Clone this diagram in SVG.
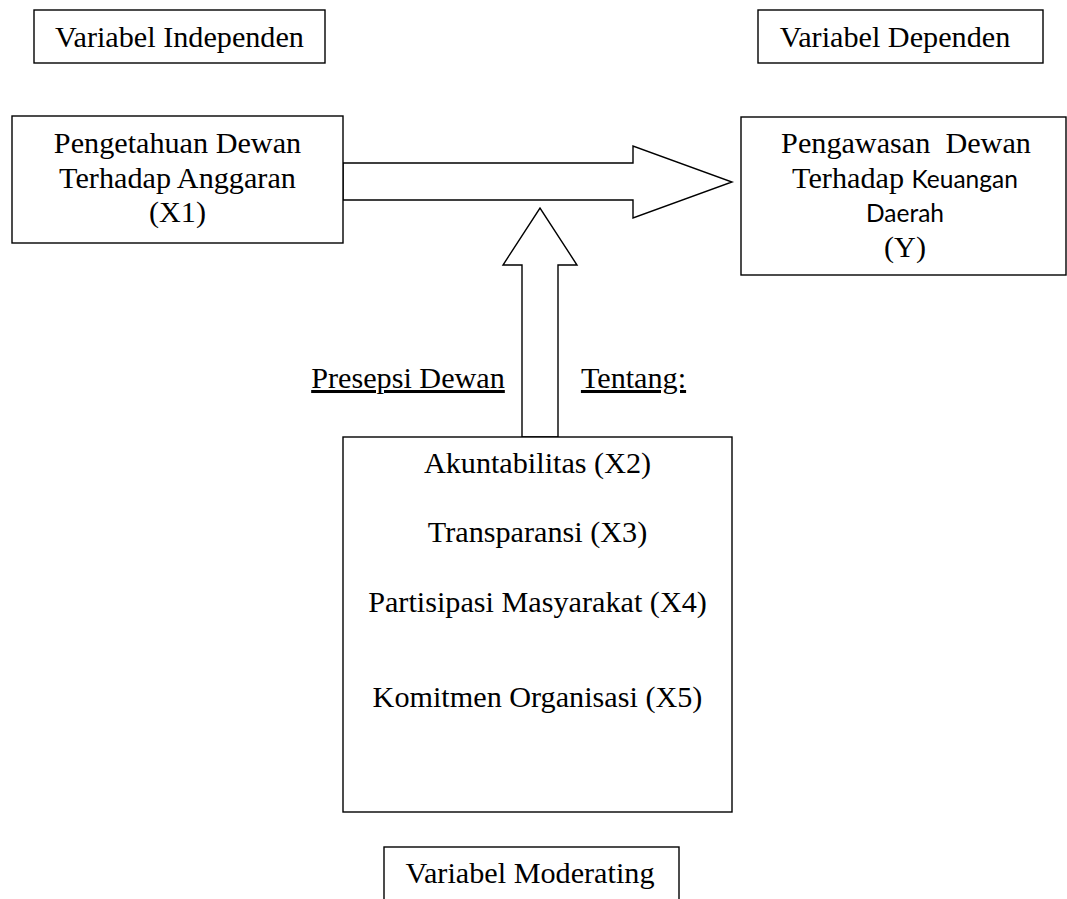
<svg xmlns="http://www.w3.org/2000/svg" width="1067" height="899" viewBox="0 0 1067 899">
<style>
.box{fill:#fff;stroke:#000;stroke-width:1.4}
.arr{fill:#fff;stroke:#000;stroke-width:1.4;stroke-linejoin:miter}
.t{font-family:"Liberation Serif","Times New Roman",serif;font-size:30.2px;fill:#000;text-anchor:middle}
.c{font-family:Lato,"Open Sans",sans-serif;font-size:24.5px}
.u{text-decoration:underline}
</style>
<rect width="1067" height="899" fill="#fff"/>
<g id="label-independen">
<rect class="box" x="34" y="10" width="291" height="53"/>
<text class="t" x="179.5" y="47">Variabel Independen</text>
</g>
<g id="label-dependen">
<rect class="box" x="758" y="10" width="285" height="53"/>
<text class="t" x="895" y="47">Variabel Dependen</text>
</g>
<g id="connectors">
<polygon class="arr" points="343,163 633,163 633,146 732,182 633,218 633,200 343,200"/>
<polygon class="arr" points="522,437 522,265 503,265 540,208 577,265 558,265 558,437"/>
</g>
<g id="x1">
<rect class="box" x="12" y="116" width="331" height="127"/>
<text class="t" x="177.5" y="153">Pengetahuan Dewan</text>
<text class="t" x="177.5" y="188">Terhadap Anggaran</text>
<text class="t" x="177.5" y="222">(X1)</text>
</g>
<g id="y">
<rect class="box" x="741" y="117" width="325" height="158"/>
<text class="t" x="906" y="153" xml:space="preserve">Pengawasan  Dewan</text>
<text class="t" x="905" y="188">Terhadap <tspan class="c">Keuangan</tspan></text>
<text class="t c" x="905" y="222">Daerah</text>
<text class="t" x="905" y="257">(Y)</text>
</g>
<g id="presepsi">
<text class="t u" x="408" y="388">Presepsi Dewan</text>
<text class="t u" x="633.5" y="388">Tentang:</text>
</g>
<g id="moderating">
<rect class="box" x="343" y="437" width="389" height="375"/>
<text class="t" x="537.5" y="473">Akuntabilitas (X2)</text>
<text class="t" x="537.5" y="542">Transparansi (X3)</text>
<text class="t" x="537.5" y="612">Partisipasi Masyarakat (X4)</text>
<text class="t" x="537.5" y="707">Komitmen Organisasi (X5)</text>
</g>
<g id="label-moderating">
<rect class="box" x="384" y="847" width="295" height="60"/>
<text class="t" x="530" y="883">Variabel Moderating</text>
</g>
</svg>
